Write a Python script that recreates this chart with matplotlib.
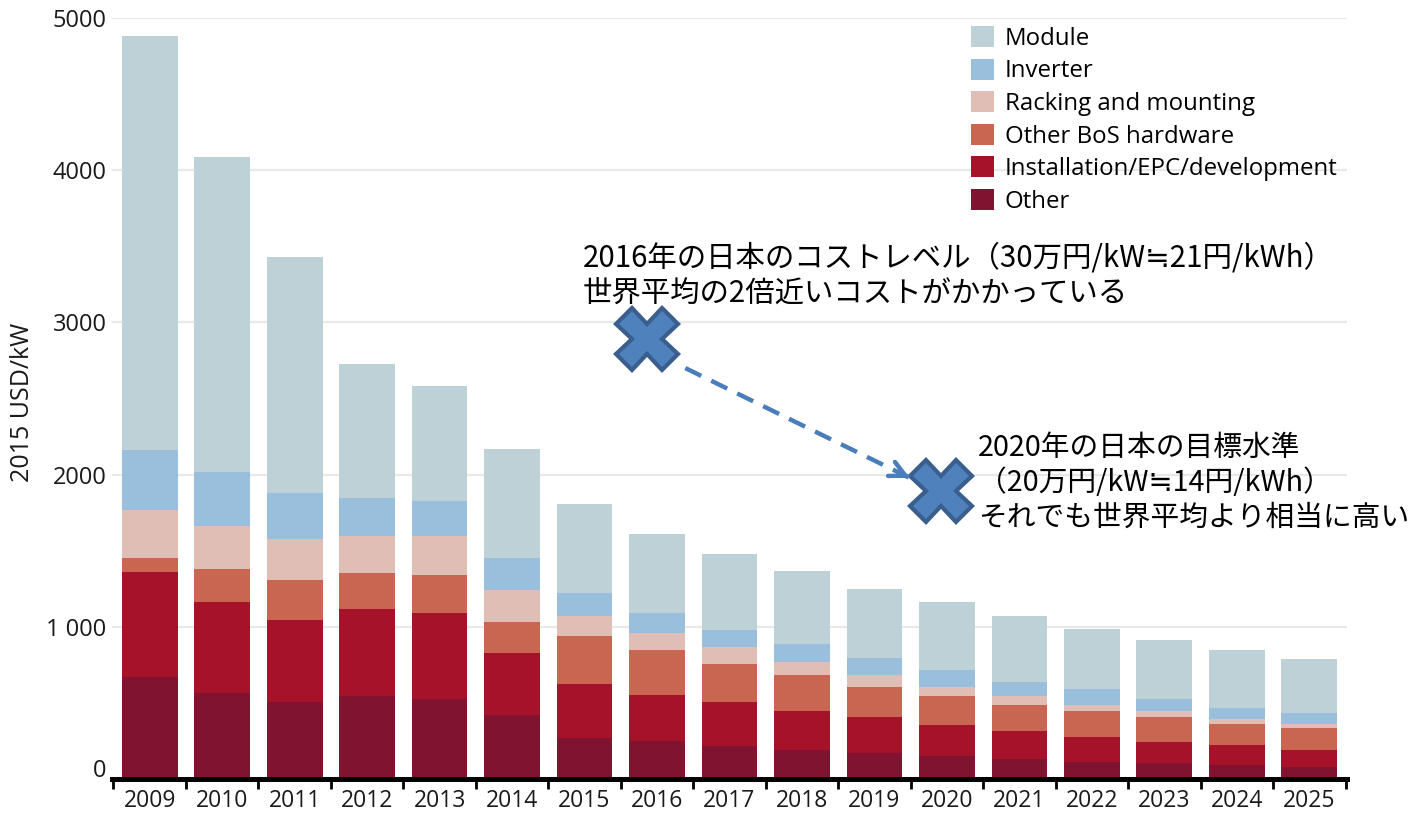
import matplotlib
matplotlib.use('Agg')
import matplotlib.pyplot as plt
import matplotlib.transforms as mtransforms
from matplotlib.patches import Patch
import numpy as np

# ---------------- data (2015 USD/kW) ----------------
years = [str(y) for y in range(2009, 2026)]
other        = [671, 567, 503, 545, 523, 422, 267, 247, 217, 192, 172, 148, 132, 113, 106, 93, 81]
installation = [688, 593, 542, 572, 568, 408, 360, 307, 286, 258, 234, 208, 186, 161, 139, 130, 111]
other_bos    = [94, 221, 265, 236, 247, 202, 311, 292, 254, 234, 199, 189, 170, 174, 161, 139, 141]
racking      = [313, 283, 270, 245, 261, 213, 135, 114, 109, 84, 77, 60, 57, 37, 44, 35, 27]
inverter     = [396, 351, 301, 245, 226, 208, 150, 129, 116, 119, 111, 108, 95, 104, 73, 69, 75]
module       = [2718, 2070, 1548, 883, 759, 718, 587, 519, 499, 479, 458, 447, 431, 398, 393, 384, 351]

series_labels = ["Other", "Installation/EPC/development", "Other BoS hardware",
                 "Racking and mounting", "Inverter", "Module"]
series_colors = ["#801430", "#A6122A", "#C96651", "#E0BEB5", "#99BFDC", "#BDD1D6"]

yticks = [0, 1000, 2000, 3000, 4000, 5000]
ytick_labels = ["0", "1 000", "2000", "3000", "4000", "5000"]

# annotation anchors (category index, USD/kW)
jp_2016 = (6.86, 2890)
jp_2020 = (10.92, 1890)
arrow_start = (7.39, 2700)
arrow_end = (10.49, 1978)
note_2016 = "2016年の日本のコストレベル（30万円/kW≒21円/kWh）\n世界平均の2倍近いコストがかかっている"
note_2020 = "2020年の日本の目標水準\n（20万円/kW≒14円/kWh）\nそれでも世界平均より相当に高い"

# ---------------- figure ----------------
W, H = 1418, 813
fig = plt.figure(figsize=(W / 100, H / 100), dpi=100)
ax = fig.add_axes([112 / W, 34 / H, (1347 - 112) / W, (795 - 34) / H])

latin = ['Open Sans', 'DejaVu Sans']
cjk = ['Noto Sans CJK JP', 'DejaVu Sans']

x = np.arange(len(years))
bottom = np.zeros(len(years))
data = [other, installation, other_bos, racking, inverter, module]
for vals, col, lab in zip(data, series_colors, series_labels):
    v = np.array(vals, dtype=float)
    ax.bar(x, v, width=0.77, bottom=bottom, color=col, label=lab, zorder=2,
           edgecolor='none')
    bottom += v

ax.set_xlim(-0.52, len(years) - 1 + 0.52)
ax.set_ylim(0, 5000)

# grid
ax.set_yticks(yticks)
ax.set_yticklabels(ytick_labels, family=latin, fontsize=17, color='#1a1a1a')
ax.yaxis.grid(True, color='#E8E8E8', linewidth=1.6, zorder=0)
ax.set_axisbelow(True)
ax.tick_params(axis='y', length=0, pad=4)
# lift the "0" label a bit as in the reference
lbl0 = ax.get_yticklabels()[0]
lbl0.set_transform(lbl0.get_transform() + mtransforms.ScaledTranslation(0, 11 / 100, fig.dpi_scale_trans))

ax.set_xticks(x)
ax.set_xticklabels(years, family=latin, fontsize=16.5, color='#1a1a1a')
ax.set_xticks(np.arange(-0.5, len(years), 1.0), minor=True)
ax.tick_params(axis='x', which='major', length=0, pad=7)
ax.tick_params(axis='x', which='minor', length=7, width=2, color='black', direction='out')

for s in ['top', 'right', 'left']:
    ax.spines[s].set_visible(False)
ax.spines['bottom'].set_linewidth(3.6)
ax.spines['bottom'].set_color('black')
ax.spines['bottom'].set_zorder(5)

ax.set_ylabel("2015 USD/kW", family=latin, fontsize=18, color='#1a1a1a',
              va='center', ha='center')
ax.yaxis.set_label_coords((22 - 112) / (1347 - 112), (779 - 402) / (779 - 18))

# legend (Module on top)
handles = [Patch(facecolor=c, edgecolor='none') for c in series_colors[::-1]]
labels = series_labels[::-1]
fs_leg = 17.3
leg = fig.legend(handles, labels, loc='upper left', bbox_to_anchor=(971 / W, 1 - 26 / H),
                 frameon=False, prop={'family': latin, 'size': fs_leg},
                 handlelength=0.96, handleheight=0.96, handletextpad=0.45,
                 labelspacing=0.33, borderpad=0, borderaxespad=0)

# annotations
mk = dict(marker='X', markersize=44, markerfacecolor='#4F81BD',
          markeredgecolor='#3A5F8E', markeredgewidth=3, linestyle='none', zorder=6)
ax.plot([jp_2016[0]], [jp_2016[1]], **mk)
ax.plot([jp_2020[0]], [jp_2020[1]], **mk)

ax.plot([arrow_start[0], arrow_end[0]], [arrow_start[1], arrow_end[1]],
        color='#4A7EBB', linewidth=3.2, linestyle=(0, (4, 2.5)), zorder=6,
        solid_capstyle='butt', dash_capstyle='butt')
dx = arrow_end[0] - arrow_start[0]
dy = arrow_end[1] - arrow_start[1]
ax.annotate('', xy=arrow_end, xytext=(arrow_end[0] - 0.02 * dx, arrow_end[1] - 0.02 * dy),
            arrowprops=dict(arrowstyle='->', color='#4A7EBB', lw=3.2, mutation_scale=28,
                            shrinkA=0, shrinkB=0), zorder=6)

fig.text(583 / W, 1 - 276 / H, note_2016, family=cjk, fontsize=21.2, color='black',
         ha='left', va='center', linespacing=1.18)
fig.text(978 / W, 1 - 483 / H, note_2020, family=cjk, fontsize=20.7, color='black',
         ha='left', va='center', linespacing=1.2)

fig.savefig('out.png', dpi=100)
